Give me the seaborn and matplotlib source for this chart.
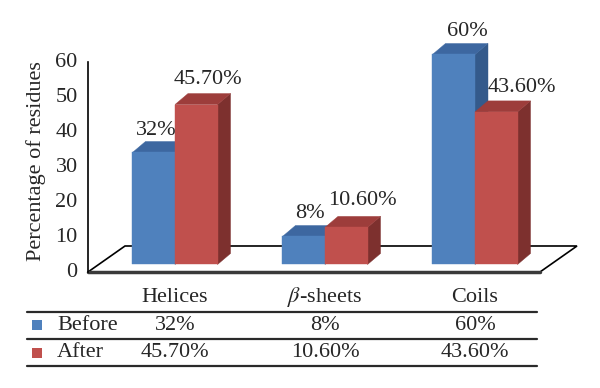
import numpy as np
import pandas as pd
import matplotlib
matplotlib.use("Agg")
import matplotlib.pyplot as plt
import seaborn as sns
from matplotlib.patches import Polygon, Rectangle
from matplotlib.lines import Line2D
from matplotlib.transforms import blended_transform_factory

# data
categories = ["Helices", r"$\beta$-sheets", "Coils"]
stages = ["Before", "After"]
before = [32, 8, 60]
after = [45.7, 10.6, 43.6]
before_labels = ["32%", "8%", "60%"]
after_labels = ["45.70%", "10.60%", "43.60%"]
yticks = [0, 10, 20, 30, 40, 50, 60]

front_cols = ["#4F81BD", "#C0504D"]
top_cols = ["#3D67A0", "#9D3D3B"]
side_cols = ["#345A8B", "#7D302E"]

sns.set_style("white")
plt.rcParams["font.family"] = ["Liberation Serif", "DejaVu Serif"]
plt.rcParams["mathtext.fontset"] = "stix"
FS = 16

df = pd.DataFrame({
    "Structure": categories * 2,
    "Stage": ["Before"] * 3 + ["After"] * 3,
    "Value": before + after,
})

fig = plt.figure(figsize=(6, 3.88), dpi=100)
ax = fig.add_axes([88 / 600, (388 - 273.5) / 388, 489 / 600, 213.5 / 388])

sns.barplot(data=df, x="Structure", y="Value", hue="Stage", hue_order=stages,
            order=categories, palette=front_cols, width=0.567, legend=False,
            saturation=1, ax=ax)
bars = sorted(ax.patches, key=lambda p: p.get_x())

ax.set_xlim(-0.58, 2.68)
ax.set_ylim(-1, 60)

# 3D geometry in data units (150 px per category, 3.5 px per unit)
bdx, bdy = 13 / 150, 11 / 3.5
fdx, fdy = 37 / 150, 26 / 3.5
floor_y = -0.57
x0, x1 = ax.get_xlim()
floor = Polygon([(x0, floor_y), (x1 - fdx, floor_y), (x1, floor_y + fdy), (x0 + fdx, floor_y + fdy)],
                closed=True, facecolor="white", edgecolor="black", lw=1.2, zorder=1, clip_on=False)
ax.add_patch(floor)
ax.add_line(Line2D([x0, x1 - fdx], [floor_y, floor_y], color="#3a3a3a", lw=2.5, zorder=1.5, clip_on=False))

# label nudges in pixels (Excel shifted some labels sideways to avoid overlaps)
nudge_x = [[-4, 0, 7], [5, 10, 19]]
nudge_y = [1, 5, 2, 6, 2, 4]

base = floor_y + (fdy - bdy) / 2
labels_all = [before_labels, after_labels]
for k, p in enumerate(bars):
    h = k % 2
    cat = k // 2
    val = p.get_height()
    p.set_y(base)
    p.set_height(val)
    p.set_facecolor(front_cols[h])
    p.set_edgecolor(front_cols[h])
    p.set_linewidth(0.3)
    p.set_zorder(3 + 2 * k)
    p.set_clip_on(False)
    xa, xb = p.get_x(), p.get_x() + p.get_width()
    yb, yt = base, base + val
    top = Polygon([(xa, yt), (xb, yt), (xb + bdx, yt + bdy), (xa + bdx, yt + bdy)],
                  facecolor=top_cols[h], edgecolor=top_cols[h], lw=0.3, zorder=2 + 2 * k, clip_on=False)
    side = Polygon([(xb, yb), (xb + bdx, yb + bdy), (xb + bdx, yt + bdy), (xb, yt)],
                   facecolor=side_cols[h], edgecolor=side_cols[h], lw=0.3, zorder=2 + 2 * k, clip_on=False)
    ax.add_patch(side)
    ax.add_patch(top)
    ax.annotate(labels_all[h][cat], (xa + p.get_width() / 2 + bdx / 2, yt + bdy),
                xytext=(nudge_x[h][cat] * 0.72, nudge_y[k] * 0.72), textcoords="offset points",
                ha="center", va="bottom", fontsize=FS, zorder=30, annotation_clip=False)

ax.set_yticks(yticks)
ax.set_yticklabels([str(t) for t in yticks], fontsize=FS)
ax.set_xticks(range(len(categories)))
ax.set_xticklabels(categories, fontsize=FS)
for lab in ax.get_xticklabels():
    lab.set_va("baseline")
ax.tick_params(axis="both", length=0)
ax.tick_params(axis="x", pad=20.5)
ax.tick_params(axis="y", pad=7.5)
ax.set_xlabel("")
ax.set_ylabel("Percentage of residues", fontsize=FS)
ax.yaxis.set_label_coords(-0.085, 0.525)
for s in ["top", "right", "bottom"]:
    ax.spines[s].set_visible(False)
ax.spines["left"].set_color("black")
ax.spines["left"].set_linewidth(1.2)
ax.spines["left"].set_bounds(-0.57, 59.5)
ax.grid(False)

# data table below the chart
tr = blended_transform_factory(ax.transData, fig.transFigure)
for ypx in [312, 339, 366]:
    fig.add_artist(Line2D([27 / 600, 537 / 600], [(388 - ypx) / 388] * 2, color="#2a2a2a", lw=1.6))
row_y = [(388 - 325) / 388, (388 - 352.5) / 388]
for h, (name, labs) in enumerate(zip(stages, labels_all)):
    fig.add_artist(Rectangle((32 / 600, row_y[h] - 5 / 388), 10 / 600, 10 / 388,
                             facecolor=front_cols[h], edgecolor="none"))
    fig.text(57 / 600, row_y[h], name, fontsize=FS, va="center", ha="left")
    for i, lab in enumerate(labs):
        fig.text(i, row_y[h], lab, transform=tr, fontsize=FS, va="center", ha="center")

fig.savefig("out.png", dpi=100)
